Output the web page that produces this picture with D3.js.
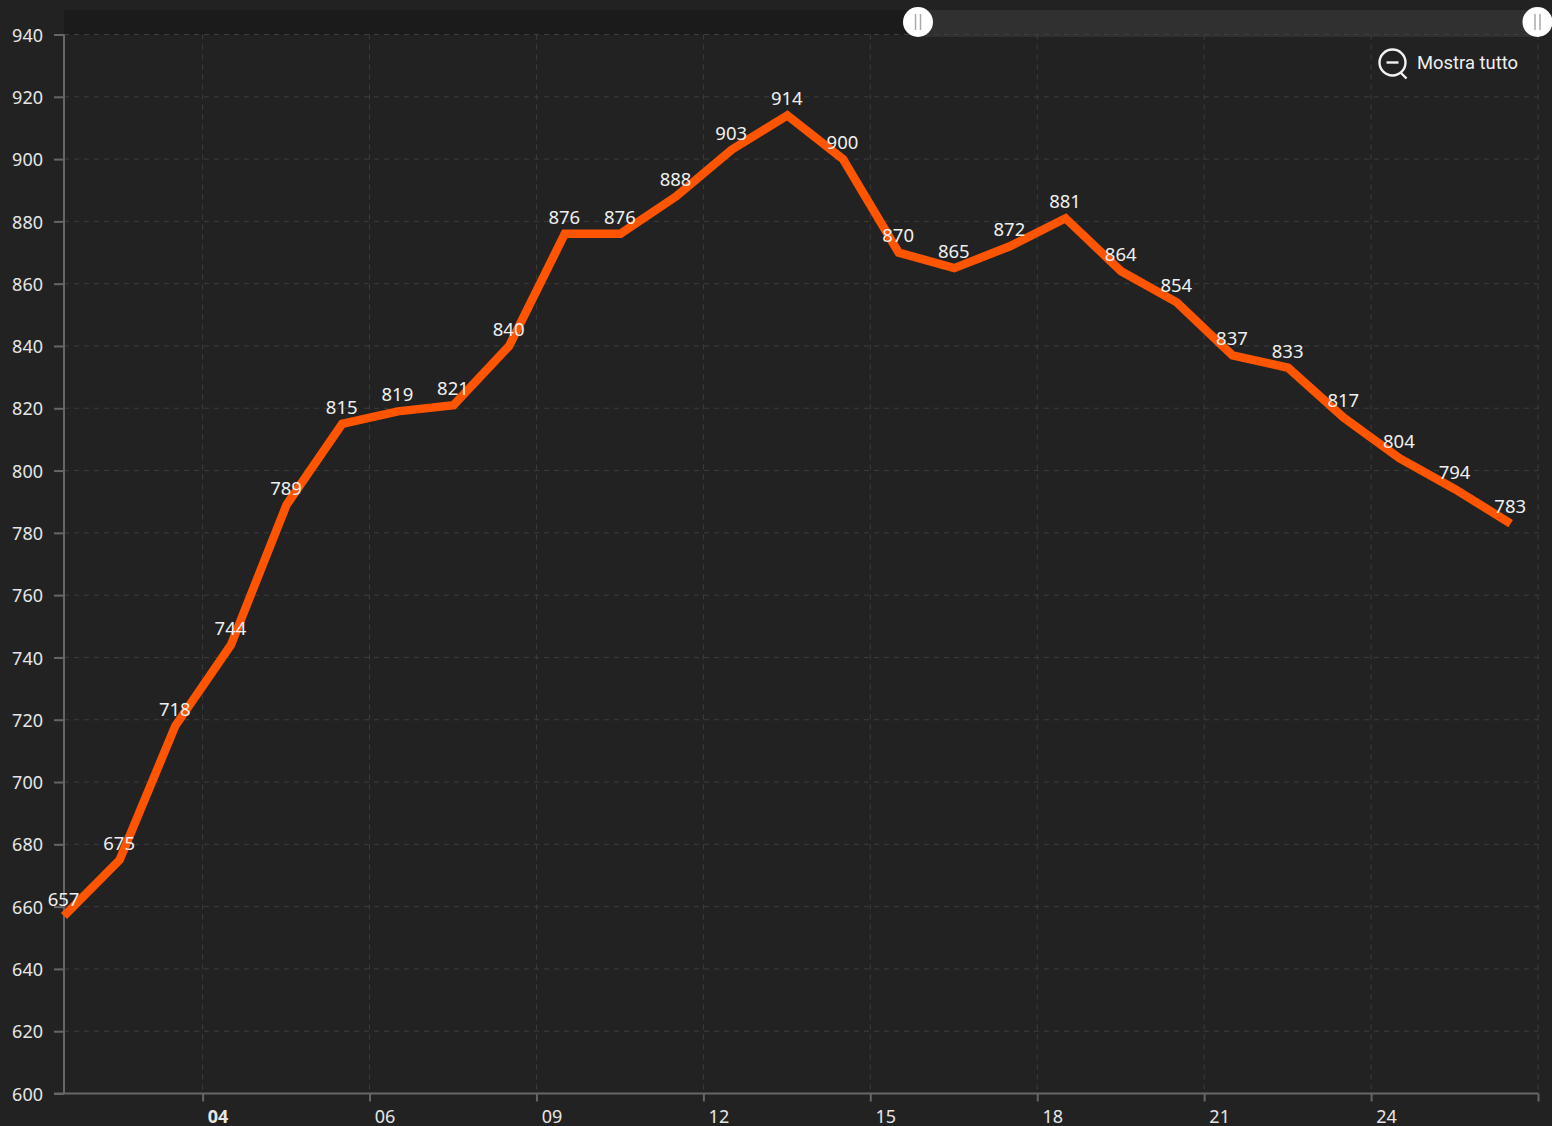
<!DOCTYPE html>
<html><head><meta charset="utf-8">
<script src="https://cdn.jsdelivr.net/npm/d3@7/dist/d3.min.js"></script>
<style>html,body{margin:0;padding:0;background:#222;overflow:hidden}svg{display:block}text{font-family:"Noto Sans",sans-serif}</style>
</head><body><svg id="c" width="1552" height="1126"></svg>
<script>
const values=[657,675,718,744,789,815,819,821,840,876,876,888,903,914,900,870,865,872,881,864,854,837,833,817,804,794,783];
const yTicks=[600,620,640,660,680,700,720,740,760,780,800,820,840,860,880,900,920,940];
const xTickPositions=[2.5,5.5,8.5,11.5,14.5,17.5,20.5,23.5,26.5];
const xTickLabels=["04","06","09","12","15","18","21","24",""];

const svg=d3.select("#c");
const L=64,R=1538.5,T=34.5,B=1093.5;
const x=d3.scaleLinear().domain([0,26.5]).range([L,R]);
const y=d3.scaleLinear().domain([600,940]).range([B,T]);
const grid="#3d3d3d",axisC="#666";

svg.append("rect").attr("width",1552).attr("height",1126).attr("fill","#222222");

// slider
svg.append("rect").attr("x",L).attr("y",10).attr("width",854).attr("height",25).attr("fill","#1b1b1b");
svg.append("rect").attr("x",918).attr("y",10).attr("width",R-918).attr("height",27).attr("fill","#303030");

// grid
const gy=svg.append("g");
gy.selectAll("line").data(yTicks.slice(1)).join("line")
 .attr("x1",L).attr("x2",R).attr("y1",d=>y(d)).attr("y2",d=>y(d))
 .attr("stroke",grid).attr("stroke-width",1).attr("stroke-dasharray","5 5");
const gx=svg.append("g");
gx.selectAll("line").data(xTickPositions).join("line")
 .attr("x1",d=>x(d)-0.5).attr("x2",d=>x(d)-0.5).attr("y1",T).attr("y2",B)
 .attr("stroke",grid).attr("stroke-width",1).attr("stroke-dasharray","5 5");

// axes
const yAxis=d3.axisLeft(y).tickValues(yTicks).tickSize(10).tickPadding(11).tickFormat(d3.format("d"));
const ya=svg.append("g").attr("transform",`translate(${L},0)`).call(yAxis);
ya.select(".domain").attr("stroke",axisC).attr("stroke-width",2).attr("d",`M0,${T}V${B}`);
ya.selectAll(".tick line").attr("stroke",axisC).attr("stroke-width",2).attr("x2",-10);
ya.selectAll(".tick text").attr("fill","#e6e6e6").attr("font-size",18).attr("dy","0.37em").attr("font-family",'"Noto Sans",sans-serif');

const xAxis=d3.axisBottom(x).tickValues(xTickPositions).tickSize(8).tickPadding(9).tickFormat((d,i)=>xTickLabels[i]);
const xa=svg.append("g").attr("transform",`translate(0,${B})`).call(xAxis);
xa.select(".domain").attr("stroke",axisC).attr("stroke-width",2).attr("d",`M${L-10},0H${R}`);
xa.selectAll(".tick line").attr("stroke",axisC).attr("stroke-width",2).attr("x1",-0.5).attr("x2",-0.5);
xa.selectAll(".tick text").attr("fill","#e6e6e6").attr("font-size",18).attr("font-family",'"Noto Sans",sans-serif')
  .attr("dx",14.5).attr("font-weight",(d,i)=>i===0?700:400);

// line
const line=d3.line().x((d,i)=>x(i)).y(d=>y(d));
svg.append("path").datum(values).attr("d",line).attr("fill","none")
 .attr("stroke","#ff5500").attr("stroke-width",8.5).attr("stroke-linejoin","miter").attr("stroke-linecap","butt");

// labels
svg.append("g").selectAll("text").data(values).join("text")
 .attr("x",(d,i)=>x(i)-0.5).attr("y",d=>y(d)-17.7)
 .attr("text-anchor","middle").attr("dominant-baseline","central")
 .attr("font-size",18.5).attr("fill","#f0f0f0").text(d=>d);

// slider handles
[[918,22],[1537.5,22]].forEach(([cx,cy])=>{
  const g=svg.append("g").attr("transform",`translate(${cx},${cy})`);
  g.append("ellipse").attr("rx",15).attr("ry",15).attr("fill","#fff");
  [-2.5,2.5].forEach(dx=>g.append("line").attr("x1",dx).attr("x2",dx).attr("y1",-8).attr("y2",8).attr("stroke","#aaa").attr("stroke-width",1.5));
});

// reset zoom control
const z=svg.append("g").attr("transform","translate(1392.5,62.5)").attr("fill","none").attr("stroke","#f2f2f2").attr("stroke-width",2.4);
z.append("circle").attr("r",13);
z.append("line").attr("x1",-6).attr("x2",6);
z.append("line").attr("x1",8).attr("y1",10).attr("x2",14).attr("y2",16);
svg.append("text").attr("x",1417).attr("y",62.5).attr("dominant-baseline","central")
 .attr("font-size",18.4).attr("fill","#f0f0f0").style("font-family","Roboto,sans-serif").text("Mostra tutto");
</script></body></html>
